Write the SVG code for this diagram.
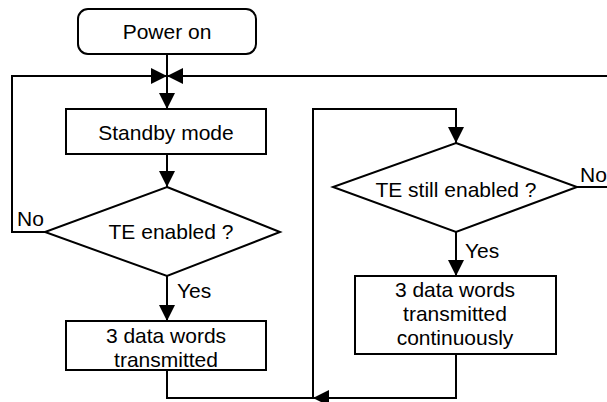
<svg xmlns="http://www.w3.org/2000/svg" width="607" height="402" viewBox="0 0 607 402">
<defs>
<marker id="ah" markerUnits="userSpaceOnUse" markerWidth="16" markerHeight="16" refX="16" refY="8" orient="auto">
<path d="M0,0 L16,8 L0,16 z" fill="#000"/>
</marker>
<style>
.shape{fill:#fff;stroke:#000;stroke-width:2}
.conn{fill:none;stroke:#000;stroke-width:2}
.arr{marker-end:url(#ah)}
text{font-family:"Liberation Sans",Arial,sans-serif;font-size:21px;fill:#000}
.c{text-anchor:middle}
</style>
</defs>
<rect width="607" height="402" fill="#fff"/>
<g id="connectors">
<path class="conn arr" d="M167,54 V109"/>
<path class="conn arr" d="M45,232 H12 V76 H167"/>
<path class="conn arr" d="M577,187 H612 V76 H167"/>
<path class="conn arr" d="M167,154 V187"/>
<path class="conn arr" d="M167,276 V321"/>
<path class="conn" d="M167,370 V398 H313"/>
<path class="conn arr" d="M456,354 V398 H313"/>
<path class="conn arr" d="M313,398 V109 H456 V143"/>
<path class="conn arr" d="M456,232 V276"/>
</g>
<g id="power-on">
<rect class="shape" x="78" y="9" width="178" height="45" rx="10" ry="10"/>
<text class="c" x="167" y="39">Power on</text>
</g>
<g id="standby">
<rect class="shape" x="66" y="109" width="200" height="45"/>
<text class="c" x="166" y="140">Standby mode</text>
</g>
<g id="te-enabled">
<polygon class="shape" points="167,187 280,232 167,276 45,232"/>
<text class="c" x="171" y="239">TE enabled ?</text>
<text x="17" y="226">No</text>
<text x="177" y="298">Yes</text>
</g>
<g id="transmitted">
<rect class="shape" x="66" y="321" width="200" height="49"/>
<text class="c" x="166" y="343">3 data words</text>
<text class="c" x="166" y="367">transmitted</text>
</g>
<g id="te-still">
<polygon class="shape" points="456,143 577,187 456,232 333,187"/>
<text class="c" x="456" y="197">TE still enabled ?</text>
<text x="580" y="182">No</text>
<text x="465" y="258">Yes</text>
</g>
<g id="continuous">
<rect class="shape" x="355" y="276" width="201" height="78"/>
<text class="c" x="455" y="297">3 data words</text>
<text class="c" x="455" y="321">transmitted</text>
<text class="c" x="455" y="345">continuously</text>
</g>
</svg>
